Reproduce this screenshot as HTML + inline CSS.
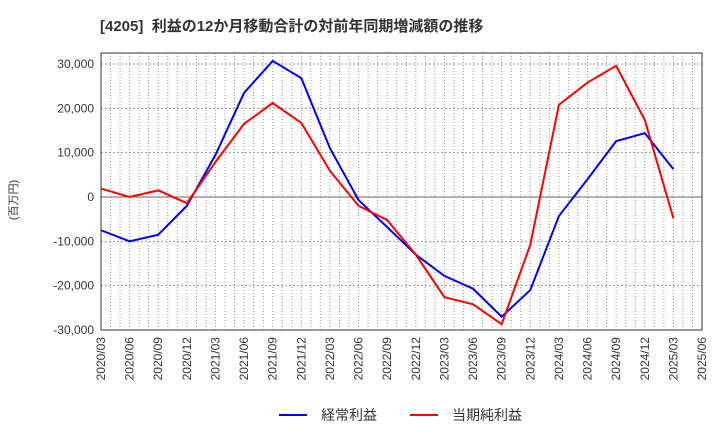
<!DOCTYPE html>
<html><head><meta charset="utf-8"><style>
body{margin:0;background:#fff;font-family:"Liberation Sans","Noto Sans CJK JP",sans-serif;}
</style></head><body>
<svg id="c" width="720" height="440" xmlns="http://www.w3.org/2000/svg"></svg>
<script>
const categories=["2020/03","2020/06","2020/09","2020/12","2021/03","2021/06","2021/09","2021/12","2022/03","2022/06","2022/09","2022/12","2023/03","2023/06","2023/09","2023/12","2024/03","2024/06","2024/09","2024/12","2025/03","2025/06"];
const ordinaryProfit=[-7500,-10000,-8500,-2000,9500,23500,30700,26800,11000,-700,-6800,-13000,-17800,-20700,-27000,-21000,-4300,4000,12600,14400,6300];
const netProfit=[1900,0,1500,-1400,7900,16500,21200,16700,5900,-2000,-5200,-13000,-22600,-24200,-28700,-10800,20800,25800,29600,17400,-4800];
const yTicks=[30000,20000,10000,0,-10000,-20000,-30000];
const NS="http://www.w3.org/2000/svg";
const svg=document.getElementById('c');
const L=101,R=702,T=53,B=330;
const x=i=>L+i*(R-L)/(categories.length-1);
const y=v=>197-v*(133/30000);
function mk(t,a){const e=document.createElementNS(NS,t);for(const k in a)e.setAttribute(k,a[k]);svg.appendChild(e);return e;}
let e;
e=mk('text',{x:100,y:31,'font-size':15,'font-weight':'bold',fill:'#333'});e.textContent='[4205]\u00a0\u00a0利益の12か月移動合計の対前年同期増減額の推移';


for(let m=1;m<(categories.length-1)*3;m++){
 const xx=L+m*(R-L)/((categories.length-1)*3);
 e=mk('line',{x1:xx,x2:xx,y1:T,y2:B,stroke:'#999','stroke-dasharray':'1,2','stroke-width':1});
 
 
}
yTicks.forEach(v=>{
 e=mk('line',{x1:L,x2:R,y1:y(v),y2:y(v),stroke:v===0?'#666':'#999','stroke-dasharray':v===0?'':'2,2','stroke-width':1});
 
 
 e=mk('text',{x:94,y:y(v)+4,'font-size':12,'text-anchor':'end',fill:'#333'});e.textContent=v.toLocaleString('en-US');
 
 
});
e=mk('rect',{x:L,y:T,width:R-L,height:B-T,fill:'none',stroke:'#333','stroke-width':1});


categories.forEach((c,i)=>{
 e=mk('text',{transform:`translate(${x(i)+4},${337}) rotate(-90)`,'font-size':12,'text-anchor':'end',fill:'#333'});e.textContent=c;
 
 
});
e=mk('text',{transform:'translate(17,200) rotate(-90)','font-size':11,'text-anchor':'middle',fill:'#333'});e.textContent='(百万円)';


function series(d,col,name){
 e=mk('polyline',{points:d.map((v,i)=>x(i)+','+y(v)).join(' '),fill:'none',stroke:col,'stroke-width':2});
 
 
}
series(ordinaryProfit,'#0000ff','ordinary-profit-line');
series(netProfit,'#ff0000','net-profit-line');
e=mk('line',{x1:279,x2:307,y1:415,y2:415,stroke:'#0000ff','stroke-width':2});


e=mk('text',{x:321,y:420,'font-size':14,fill:'#333'});e.textContent='経常利益';


e=mk('line',{x1:410,x2:438,y1:415,y2:415,stroke:'#ff0000','stroke-width':2});


e=mk('text',{x:452,y:420,'font-size':14,fill:'#333'});e.textContent='当期純利益';


</script>
</body></html>
